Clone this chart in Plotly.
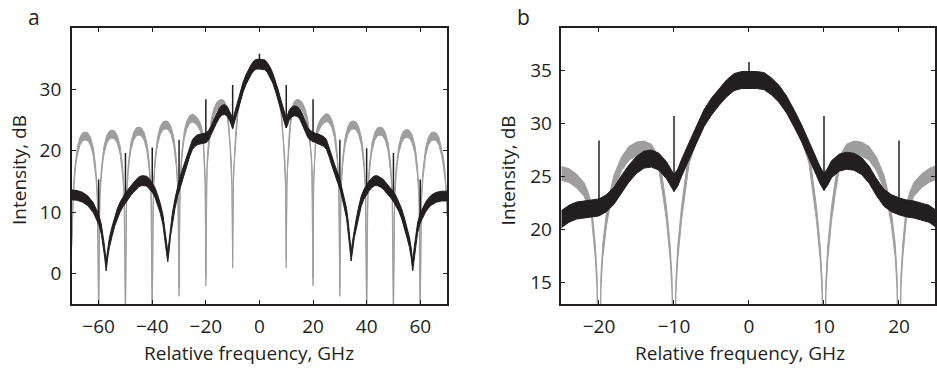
import plotly.graph_objects as go

# ---------------- data ----------------
gray_freq = [
    -70, -69.75, -69.5, -69, -68.5, -68, -67, -66, -65, -64, -63, -62, -61.5, -61, -60.5, -60.25, -60,
    -59.75, -59.5, -59, -58.5, -58, -57, -56, -55, -54, -53, -52, -51.5, -51, -50.5, -50.25, -50,
    -49.75, -49.5, -49, -48.5, -48, -47, -46, -45, -44, -43, -42, -41.5, -41, -40.5, -40.25, -40,
    -39.75, -39.5, -39, -38.5, -38, -37, -36, -35, -34, -33, -32, -31.5, -31, -30.5, -30.25, -30,
    -29.75, -29.5, -29, -28.5, -28, -27, -26, -25, -24, -23, -22, -21.5, -21, -20.5, -20.25, -20,
    -19.75, -19.5, -19, -18.5, -18, -17, -16, -15, -14, -13, -12, -11.5, -11, -10.5, -10.25, -10,
    -9.75, -9.5, -9, -8.5, -8, -7, -6, -5, -4, -3, -2, -1, 0, 1, 2, 3, 4, 5, 6, 7, 8, 8.5, 9, 9.5, 9.75, 10,
    10.25, 10.5, 11, 11.5, 12, 13, 14, 15, 16, 17, 18, 18.5, 19, 19.5, 19.75, 20,
    20.25, 20.5, 21, 21.5, 22, 23, 24, 25, 26, 27, 28, 28.5, 29, 29.5, 29.75, 30,
    30.25, 30.5, 31, 31.5, 32, 33, 34, 35, 36, 37, 38, 38.5, 39, 39.5, 39.75, 40,
    40.25, 40.5, 41, 41.5, 42, 43, 44, 45, 46, 47, 48, 48.5, 49, 49.5, 49.75, 50,
    50.25, 50.5, 51, 51.5, 52, 53, 54, 55, 56, 57, 58, 58.5, 59, 59.5, 59.75, 60,
    60.25, 60.5, 61, 61.5, 62, 63, 64, 65, 66, 67, 68, 68.5, 69, 69.5, 69.75, 70,
]
gray_db = [
    5.0, 9.4, 12.6, 16.1, 18.3, 19.8, 21.5, 22.25, 22.4, 22.25, 21.5, 19.8, 18.3, 16.1, 12.6, 9.4, -8,
    9.7, 12.9, 16.4, 18.6, 20.1, 21.8, 22.55, 22.7, 22.55, 21.8, 20.1, 18.6, 16.4, 12.9, 9.7, -8,
    10.2, 13.4, 16.9, 19.1, 20.6, 22.3, 23.05, 23.2, 23.05, 22.3, 20.6, 19.1, 16.9, 13.4, 10.2, -8,
    11.2, 14.4, 17.9, 20.1, 21.6, 23.3, 24.05, 24.2, 24.05, 23.3, 21.6, 20.1, 17.9, 14.4, 11.2, -3.1,
    12.3, 15.5, 19.0, 21.2, 22.7, 24.3, 25.1, 25.3, 25.1, 24.6, 23.8, 23.0, 21.8, 18.0, 15.0, -1.4,
    15.0, 18.0, 21.0, 23.0, 24.5, 26.2, 27.2, 27.6, 27.7, 27.4, 26.2, 24.0, 21.5, 17.8, 14.6, 1.5,
    14.6, 17.8, 21.5, 24.2, 26.8, 29.0, 30.5, 31.6, 32.5, 33.3, 33.9, 34.1, 34.1, 34.1, 34.0, 33.5, 32.8,
    31.8, 30.5, 29.1, 26.9, 24.2, 21.5, 17.8, 14.6, 1.5,
    14.6, 17.8, 21.5, 24.0, 26.2, 27.4, 27.7, 27.6, 27.2, 26.2, 24.5, 23.0, 21.0, 18.0, 15.0, -1.4,
    15.0, 18.0, 21.8, 23.0, 23.8, 24.6, 25.1, 25.4, 25.2, 24.4, 22.8, 21.3, 19.1, 15.6, 12.4, -3.1,
    11.2, 14.4, 17.9, 20.1, 21.6, 23.3, 24.05, 24.2, 24.05, 23.3, 21.6, 20.1, 17.9, 14.4, 11.2, -8,
    10.2, 13.4, 16.9, 19.1, 20.6, 22.3, 23.05, 23.2, 23.05, 22.3, 20.6, 19.1, 16.9, 13.4, 10.2, -8,
    9.8, 13.0, 16.5, 18.7, 20.2, 21.9, 22.65, 22.8, 22.65, 21.9, 20.2, 18.7, 16.5, 13.0, 9.8, -8,
    9.4, 12.6, 16.1, 18.3, 19.8, 21.5, 22.25, 22.4, 22.25, 21.5, 19.8, 18.5, 17.2, 15.0, 13.0, 10.0,
]

black_freq = [
    -70, -68, -66, -64, -62, -61, -60, -59, -58.4, -57.8, -57.2, -56.6, -56, -55, -54, -53, -52, -51,
    -50, -49, -48, -47, -46, -45, -44, -43, -42, -41, -40, -39, -38, -37, -36, -35.2, -34.7, -34.2,
    -33.7, -33.2, -32.5, -31.5, -30.5, -30, -29, -28, -27, -26, -25, -24, -23, -22, -21, -20, -19,
    -18, -17, -16, -15, -14, -13, -12, -11, -10.5, -10, -9.5, -9, -8, -7, -6, -5, -4, -3, -2, -1,
    0, 1, 2, 3, 4, 5, 6, 7, 8, 9, 9.5, 10, 10.5, 11, 12, 13, 14, 15, 16, 17, 18, 19, 20, 21, 22,
    23, 24, 25, 26, 27, 28, 29, 30, 30.5, 31.5, 32.5, 33.2, 33.7, 34.2, 34.8, 35.4, 36, 37, 38, 39,
    40, 41, 42, 43, 44, 45, 46, 47, 48, 49, 50, 51, 52, 53, 54, 55, 56, 56.6, 57.2, 57.8, 58.4, 59,
    60, 61, 62, 63, 64, 65, 66, 68, 70,
]
black_db = [
    12.8, 12.7, 12.4, 11.8, 10.7, 9.8, 8.8, 7.2, 5.6, 3.6, 1.2, 3.4, 5.0, 6.8, 8.5, 9.8, 10.8, 11.6,
    12.3, 12.9, 13.5, 14.0, 14.5, 14.9, 15.1, 15.1, 15.0, 14.6, 14.0, 13.2, 12.0, 10.6, 8.7, 6.3, 4.2, 2.7,
    4.5, 6.8, 9.0, 11.4, 13.4, 14.3, 15.8, 17.2, 18.5, 19.9, 21.0, 21.5, 21.8, 21.9, 22.0, 22.1, 22.5,
    23.2, 24.3, 25.3, 26.1, 26.6, 26.7, 26.4, 25.6, 25.0, 24.4, 24.9, 25.8, 27.4, 29.0, 30.5, 31.6, 32.5, 33.3, 33.9, 34.1,
    34.1, 34.1, 34.0, 33.5, 32.8, 31.8, 30.5, 29.1, 27.5, 25.9, 25.1, 24.5, 25.0, 25.7, 26.3, 26.5, 26.4, 26.0, 25.2, 24.0, 23.0, 22.5, 22.2, 22.0, 21.9,
    21.7, 21.5, 21.0, 19.8, 18.4, 17.0, 15.8, 14.6, 13.6, 11.8, 9.8, 7.4, 5.0, 2.8, 4.6, 6.6, 7.8, 10.0, 11.8, 12.9,
    13.7, 14.3, 14.8, 15.1, 15.1, 14.9, 14.6, 14.1, 13.6, 13.1, 12.5, 11.8, 10.9, 9.8, 8.4, 6.7, 5.0, 3.4, 1.2, 3.6, 5.6, 7.4,
    9.0, 9.9, 10.8, 11.4, 11.9, 12.2, 12.4, 12.6, 12.6,
]

# narrow black spikes (comb lines)
spike_freq = [-60, -50, -40, -30, -20, -10, 0, 10, 20, 30, 40, 50, 60]
spike_top = [15.3, 19.6, 20.5, 21.8, 28.4, 30.7, 35.8, 30.7, 28.4, 21.8, 20.4, 19.6, 15.3]
spike_base = [8.0, 11.5, 13.2, 13.5, 21.3, 23.6, 33.3, 23.7, 21.4, 13.8, 12.9, 11.7, 8.2]

# half-width of the noise band (dB)
gray_noise = 0.65
black_noise = 0.8

x_ticks_a = [-60, -40, -20, 0, 20, 40, 60]
y_ticks_a = [0, 10, 20, 30]
x_ticks_b = [-20, -10, 0, 10, 20]
y_ticks_b = [15, 20, 25, 30, 35]

GRAY = "#9e9e9e"
BLACK = "#231f20"
W, H = 937, 368


def band(fx, fy, s):
    xs = list(fx) + list(fx)[::-1]
    ys = [v + s for v in fy] + [v - s for v in fy][::-1]
    return xs, ys


fig = go.Figure()
for xa, ya in (("x", "y"), ("x2", "y2")):
    gx, gy = band(gray_freq, gray_db, gray_noise)
    fig.add_trace(go.Scatter(x=gx, y=gy, xaxis=xa, yaxis=ya, mode="lines", fill="toself",
                             fillcolor=GRAY, line=dict(color=GRAY, width=1), hoverinfo="skip"))
    bx, by = band(black_freq, black_db, black_noise)
    fig.add_trace(go.Scatter(x=bx, y=by, xaxis=xa, yaxis=ya, mode="lines", fill="toself",
                             fillcolor=BLACK, line=dict(color=BLACK, width=1), hoverinfo="skip"))
    sx, sy = [], []
    for f, b, t in zip(spike_freq, spike_base, spike_top):
        sx += [f, f, None]
        sy += [b, t, None]
    fig.add_trace(go.Scatter(x=sx, y=sy, xaxis=xa, yaxis=ya, mode="lines",
                             line=dict(color=BLACK, width=1.5), hoverinfo="skip"))

FONT = "Open Sans"
axis_common = dict(showline=True, linecolor=BLACK, linewidth=1.5, mirror="ticks",
                   ticks="inside", ticklen=4, tickwidth=1, tickcolor=BLACK,
                   showgrid=False, zeroline=False,
                   tickfont=dict(family=FONT, size=19, color=BLACK))

ydom = [1 - 304 / H, 1 - 28 / H]
fig.update_layout(
    width=W, height=H, margin=dict(l=0, r=0, t=0, b=0),
    paper_bgcolor="white", plot_bgcolor="white", showlegend=False,
    xaxis=dict(domain=[72 / W, 448 / W], range=[-70, 70], tickvals=x_ticks_a, anchor="y",
               ticklabelstandoff=4, **axis_common),
    yaxis=dict(domain=ydom, range=[-5, 40], tickvals=y_ticks_a, anchor="x",
               ticklabelstandoff=5, **axis_common),
    xaxis2=dict(domain=[562.7 / W, 1.0], range=[-25, 24.8], tickvals=x_ticks_b, anchor="y2",
                ticklabelstandoff=4, **axis_common),
    yaxis2=dict(domain=ydom, range=[13, 39], tickvals=y_ticks_b, anchor="x2",
                ticklabelstandoff=4, **axis_common),
)

ann_font = dict(family=FONT, size=19, color=BLACK)
annotations = [
    dict(text="a", x=34 / W, y=1 - 17 / H, font=dict(family=FONT, size=21, color=BLACK)),
    dict(text="b", x=525 / W, y=1 - 17 / H, font=dict(family=FONT, size=21, color=BLACK)),
    dict(text="Relative frequency, GHz", x=250 / W, y=1 - 353 / H, font=ann_font),
    dict(text="Relative frequency, GHz", x=742 / W, y=1 - 353 / H, font=ann_font),
    dict(text="Intensity, dB", x=19 / W, y=1 - 170 / H, textangle=-90, font=ann_font),
    dict(text="Intensity, dB", x=509.5 / W, y=1 - 170 / H, textangle=-90, font=ann_font),
]
for a in annotations:
    a.update(xref="paper", yref="paper", showarrow=False, xanchor="center", yanchor="middle")
fig.update_layout(annotations=annotations)

fig.write_html("out.html")
